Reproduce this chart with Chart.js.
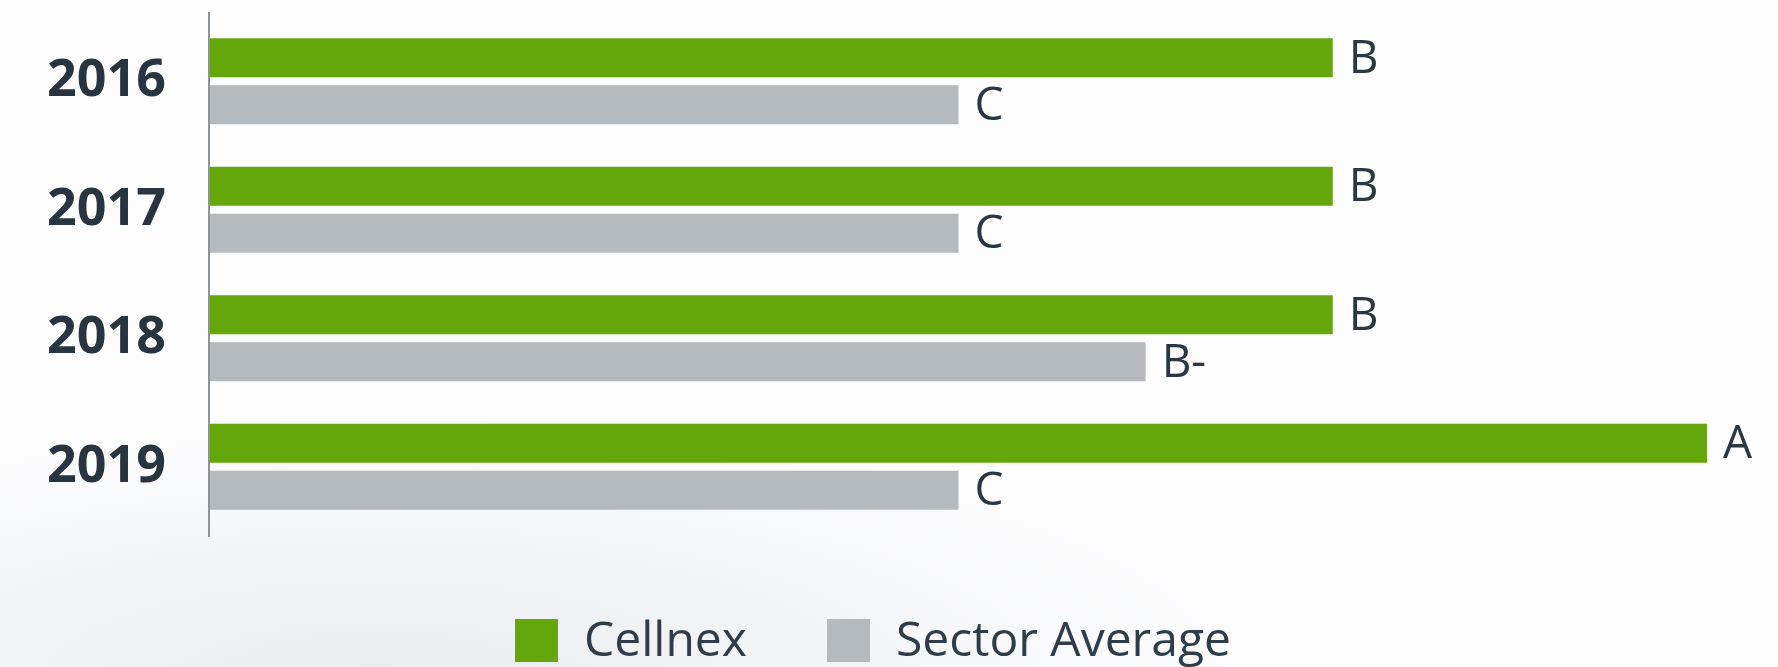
<!DOCTYPE html>
<html>
<head>
<meta charset="utf-8">
<script src="https://cdn.jsdelivr.net/npm/chart.js@4.4.1/dist/chart.umd.min.js"></script>
<style>
  html,body{margin:0;padding:0;}
  body{width:1778px;height:667px;overflow:hidden;position:relative;
    background:radial-gradient(ellipse 900px 260px at 380px 680px,#e9ecef 0%,#f4f5f7 55%,rgba(253,253,254,0) 100%),#fdfdfe;}
  #wrap{position:absolute;left:0;top:0;width:1778px;height:667px;}
  .lg{position:absolute;top:619px;height:43px;display:flex;align-items:center;}
  .lg .sw{width:43px;height:43px;flex:none;}
  .lg .tx{margin-left:26px;font-family:"Open Sans";font-size:48px;line-height:1;color:#2f3d4a;
    white-space:nowrap;position:relative;top:-3px;}
</style>
</head>
<body>
<div id="wrap"><canvas id="c"></canvas></div>
<div id="legend"></div>
<script>
// datos
const years=['2016','2017','2018','2019'];
const seriesNames=['Cellnex','Sector Average'];
const cellnexScore=[6,6,6,8];      // B=6, A=8
const sectorScore=[4,4,5,4];       // C=4, B-=5
const cellnexGrade=['B','B','B','A'];
const sectorGrade=['C','C','B-','C'];
const COLORS=['#63a70b','#b5babf'];
const GRADES=[cellnexGrade,sectorGrade];

// etiquetas de nota a la derecha de cada barra
const gradeLabels={id:'gradeLabels',
  afterDatasetsDraw(chart){
    const ctx=chart.ctx; ctx.save();
    ctx.font='46px "Open Sans"'; ctx.fillStyle='#2b3742'; ctx.textBaseline='middle'; ctx.textAlign='left';
    chart.data.datasets.forEach((ds,i)=>{
      chart.getDatasetMeta(i).data.forEach((bar,j)=>{ ctx.fillText(GRADES[i][j],bar.x+16,bar.y+2); });
    });
    ctx.restore();
  }};

// eje vertical un poco mas largo que el area
const axisLine={id:'axisLine',
  afterDraw(chart){
    const a=chart.chartArea,ctx=chart.ctx; ctx.save();
    ctx.strokeStyle='#8e9398'; ctx.lineWidth=2;
    ctx.beginPath(); ctx.moveTo(a.left-1,a.top-5); ctx.lineTo(a.left-1,a.bottom+6); ctx.stroke();
    ctx.restore();
  }};

// leyenda html
const htmlLegend={id:'htmlLegend',
  afterUpdate(chart){
    const box=document.getElementById('legend'); box.innerHTML='';
    const lefts=[515,827];
    chart.data.datasets.forEach((ds,i)=>{
      const it=document.createElement('div'); it.className='lg'; it.style.left=lefts[i]+'px';
      const sw=document.createElement('span'); sw.className='sw'; sw.style.background=ds.backgroundColor;
      const tx=document.createElement('span'); tx.className='tx'; tx.textContent=ds.label;
      it.appendChild(sw); it.appendChild(tx); box.appendChild(it);
    });
  }};

new Chart(document.getElementById('c'),{
  type:'bar',
  data:{labels:years,datasets:[
    {label:seriesNames[0],data:cellnexScore,backgroundColor:COLORS[0]},
    {label:seriesNames[1],data:sectorScore,backgroundColor:COLORS[1]}
  ]},
  options:{indexAxis:'y',responsive:true,maintainAspectRatio:false,animation:false,
    categoryPercentage:0.73,barPercentage:0.83,
    layout:{padding:{top:17,right:71,bottom:136,left:0}},
    plugins:{legend:{display:false},tooltip:{enabled:false}},
    scales:{
      x:{display:false,min:0,max:8},
      y:{grid:{display:true,drawOnChartArea:false,drawTicks:true,tickLength:44,tickColor:'rgba(0,0,0,0)'},
        border:{display:false},
        ticks:{color:'#28343f',padding:0,font:{family:'Open Sans',size:52,weight:'bold',lineHeight:0.4}},
        afterFit(s){s.width=210;}}
    }},
  plugins:[gradeLabels,axisLine,htmlLegend]
});
</script>
</body>
</html>
